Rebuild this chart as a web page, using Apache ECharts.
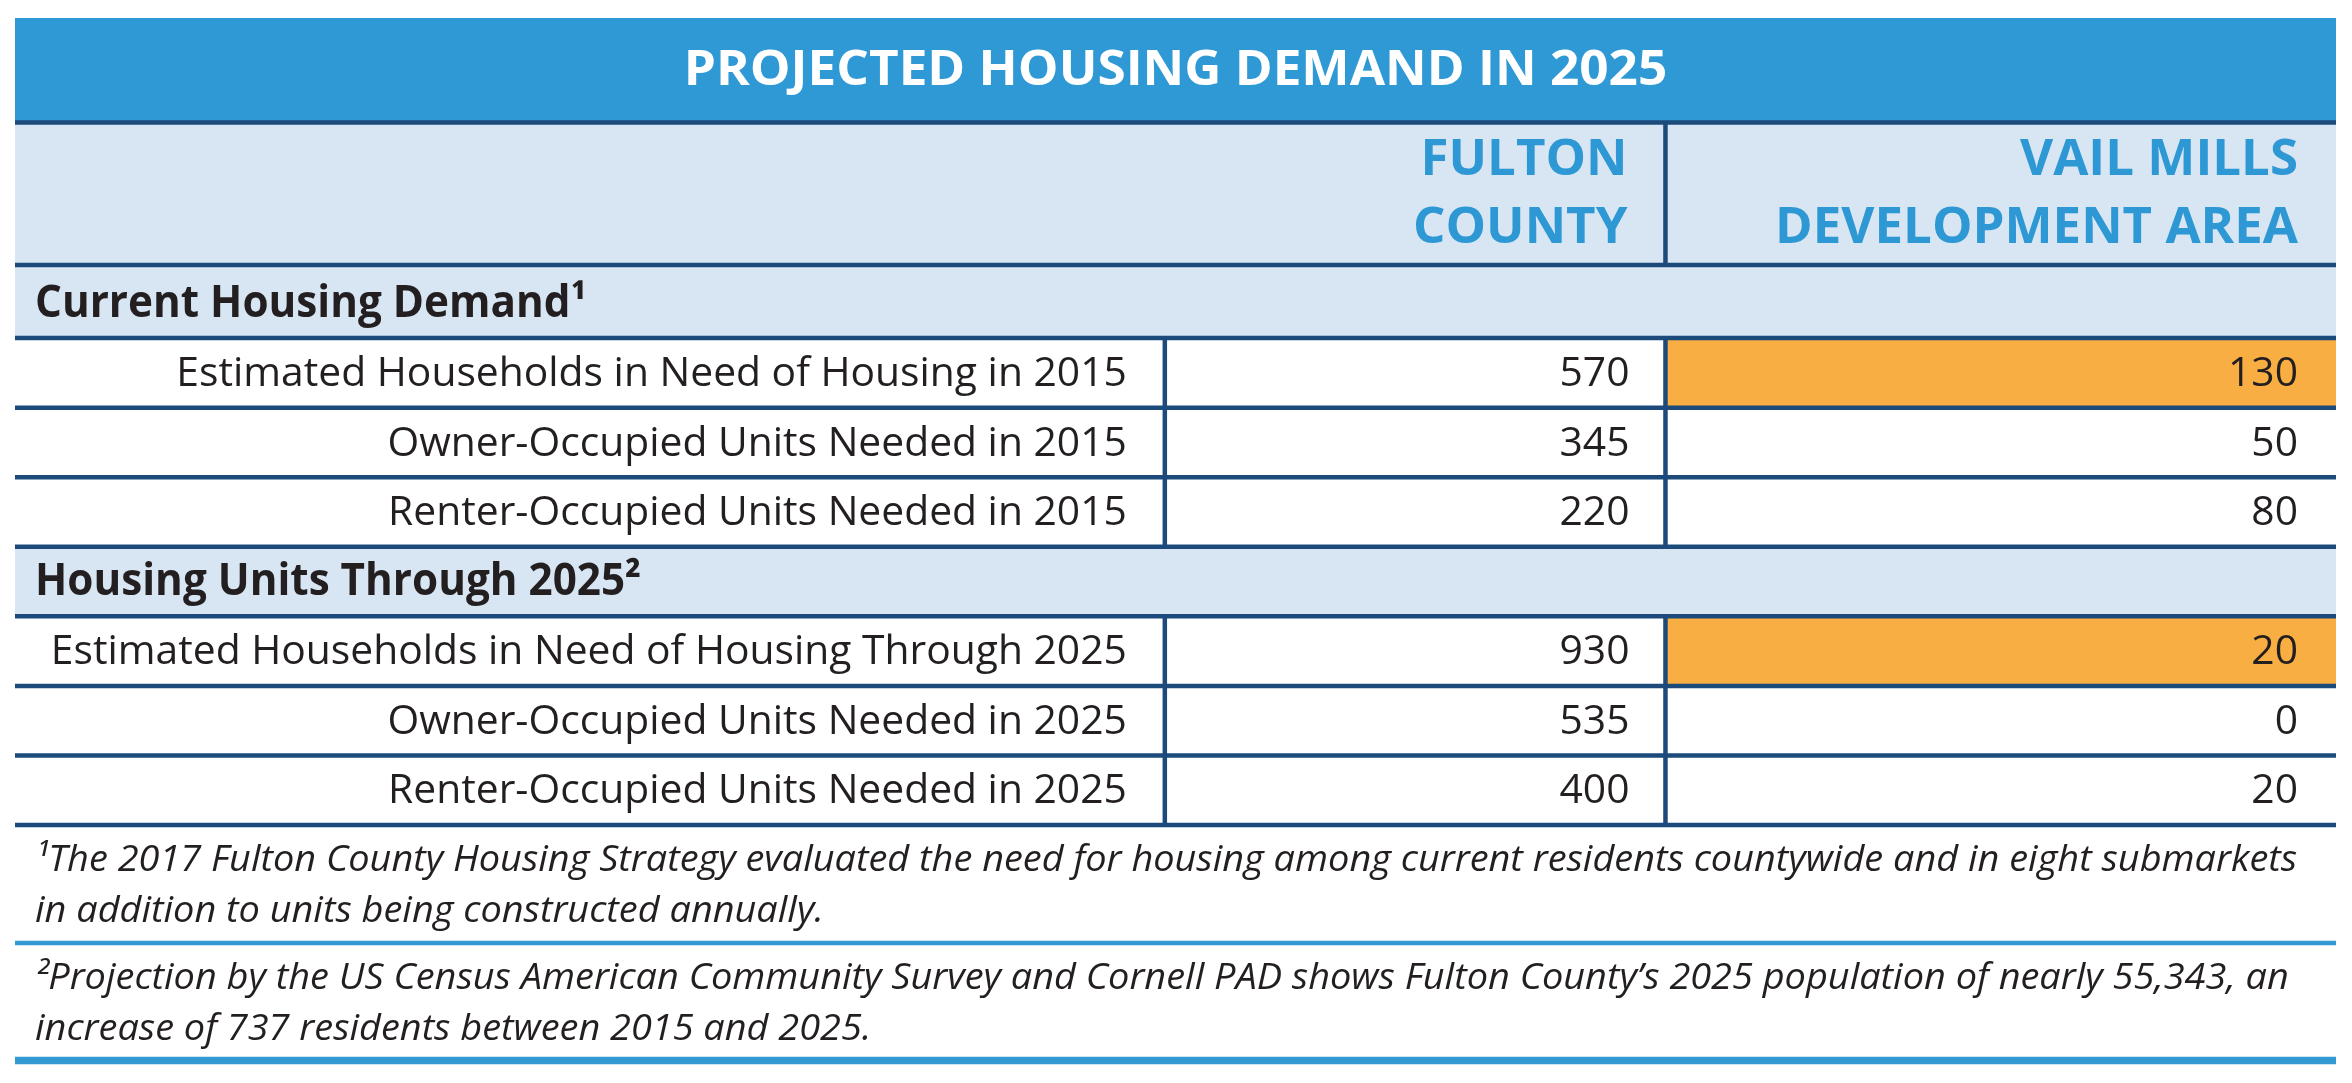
<!DOCTYPE html>
<html><head><meta charset="utf-8">
<script src="https://cdn.jsdelivr.net/npm/echarts@6/dist/echarts.min.js"></script>
<style>html,body{margin:0;padding:0;background:#fff}#c{width:2352px;height:1083px}</style>
</head><body><div id="c"></div>
<script>
// ---------------- data ----------------
const title = 'PROJECTED HOUSING DEMAND IN 2025';
const columnHeaders = ['FULTON\nCOUNTY', 'VAIL MILLS\nDEVELOPMENT AREA'];
const rowLabels = [
  'Current Housing Demand\u00B9',
  'Estimated Households in Need of Housing in 2015',
  'Owner-Occupied Units Needed in 2015',
  'Renter-Occupied Units Needed in 2015',
  'Housing Units Through 2025\u00B2',
  'Estimated Households in Need of Housing Through 2025',
  'Owner-Occupied Units Needed in 2025',
  'Renter-Occupied Units Needed in 2025'
];
const rowIsSection = [true, false, false, false, true, false, false, false];
const fultonCounty = [null, 570, 345, 220, null, 930, 535, 400];
const vailMills = [null, 130, 50, 80, null, 20, 0, 20];
const highlightVail = [false, true, false, false, false, true, false, false];
const footnotes = [
  '\u00B9The 2017 Fulton County Housing Strategy evaluated the need for housing among current residents countywide and in eight submarkets\nin addition to units being constructed annually.',
  '\u00B2Projection by the US Census American Community Survey and Cornell PAD shows Fulton County\u2019s 2025 population of nearly 55,343, an\nincrease of 737 residents between 2015 and 2025.'
];

// ---------------- layout (y in body-row units, x as fraction of width) ----------------
const H_TITLE = 1.502, H_COLHEAD = 2.049, GAP = 0.05, H_NOTE1 = 1.696, H_NOTE2 = 1.689;
const Y_COLHEAD = H_TITLE, Y_COLHEAD_END = Y_COLHEAD + H_COLHEAD, Y_BODY = Y_COLHEAD_END + GAP;
const Y_NOTES = Y_BODY + rowLabels.length;
const Y_END = Y_NOTES + H_NOTE1 + H_NOTE2;
const X_EDGES = [0, 0.4954, 0.7111, 1];
const PAD_R = 38, PAD_L = 20;

// ---------------- styles ----------------
const C = {
  title: '#2e99d5', light: '#d8e6f3', navy: '#1b4a7b', orange: '#f9ae43',
  text: '#231f20', head: '#2e98d4', noteLine: '#3399d3'
};
const FONT = '"Open Sans"';
const S = {
  title: {size: 48, weight: 700, style: 'normal', sx: 1.068},
  head: {size: 51, weight: 700, style: 'normal', sx: 1.0, lh: 68.3},
  section: {size: 44, weight: 700, style: 'normal', sx: 0.96},
  body: {size: 41, weight: 400, style: 'normal', sx: 0.995},
  note: {size: 37, weight: 400, style: 'italic', sx: 1.024, lh: 51}
};

function rectEl(api, x0, y0, x1, y1, fill) {
  const a = api.coord([x0, y0]), b = api.coord([x1, y1]);
  return {type: 'rect', z2: 0, shape: {x: a[0], y: a[1], width: b[0] - a[0], height: b[1] - a[1]}, style: {fill: fill}};
}
function hLine(api, x0, x1, y, color, w) {
  const a = api.coord([x0, y]), b = api.coord([x1, y]);
  return {type: 'line', z2: 10, shape: {x1: a[0], y1: a[1], x2: b[0], y2: b[1]}, style: {stroke: color, lineWidth: w}};
}
function vLine(api, x, y0, y1, color, w) {
  const a = api.coord([x, y0]), b = api.coord([x, y1]);
  return {type: 'line', z2: 10, shape: {x1: a[0], y1: a[1], x2: b[0], y2: b[1]}, style: {stroke: color, lineWidth: w}};
}
function textEl(api, x, y, str, st, color, align, dx, dy) {
  const p = api.coord([x, y]);
  return {
    type: 'text', z2: 20, x: p[0] + (dx || 0), y: p[1] + (dy || 0), scaleX: st.sx, originX: 0, originY: 0,
    style: {
      text: str, fill: color, fontFamily: FONT, fontSize: st.size, fontWeight: st.weight, fontStyle: st.style,
      align: align, verticalAlign: 'middle', lineHeight: st.lh || st.size * 1.3
    }
  };
}

const chart = echarts.init(document.getElementById('c'), null, {renderer: 'canvas'});

chart.setOption({
  animation: false,
  grid: {left: 15, right: 16, top: 18, bottom: 22.5},
  xAxis: {type: 'value', min: 0, max: 1, show: false},
  yAxis: {type: 'value', min: 0, max: Y_END, inverse: true, show: false},
  series: [
    { // title band and column headers
      type: 'custom', name: 'header', z: 2, silent: true,
      data: [[0, 0]],
      renderItem: function (params, api) {
        const ch = [
          rectEl(api, 0, 0, 1, Y_COLHEAD, C.title),
          rectEl(api, 0, Y_COLHEAD, 1, Y_BODY, C.light),
          textEl(api, 0.5, Y_COLHEAD / 2, title, S.title, '#ffffff', 'center', 0, 1),
          hLine(api, 0, 1, Y_COLHEAD, C.navy, 4.5),
          vLine(api, X_EDGES[2], Y_COLHEAD, Y_COLHEAD_END, C.navy, 4.5),
          hLine(api, 0, 1, Y_COLHEAD_END, C.navy, 4.5)
        ];
        columnHeaders.forEach(function (h, k) {
          ch.push(textEl(api, X_EDGES[k + 2], (Y_COLHEAD + Y_COLHEAD_END) / 2, h, S.head, C.head, 'right', -PAD_R, 1));
        });
        return {type: 'group', children: ch};
      }
    },
    { // row labels
      type: 'custom', name: 'rows', z: 2, silent: true,
      data: rowLabels.map(function (l, i) { return [0, i]; }),
      renderItem: function (params, api) {
        const i = api.value(1), y0 = Y_BODY + i, y1 = y0 + 1;
        const ch = [];
        if (rowIsSection[i]) {
          ch.push(rectEl(api, 0, y0, 1, y1, C.light));
          ch.push(textEl(api, 0, y0 + 0.5, rowLabels[i], S.section, C.text, 'left', PAD_L, 1));
        } else {
          ch.push(textEl(api, X_EDGES[1], y0 + 0.5, rowLabels[i], S.body, C.text, 'right', -PAD_R, 1.5));
          ch.push(vLine(api, X_EDGES[1], y0, y1, C.navy, 4.5));
        }
        ch.push(hLine(api, 0, 1, y1, C.navy, 4.5));
        return {type: 'group', children: ch};
      }
    },
    { // Fulton County values
      type: 'custom', name: 'Fulton County', z: 2, silent: true,
      data: fultonCounty.map(function (v, i) { return v == null ? null : {value: [1, i, v]}; }).filter(Boolean),
      renderItem: function (params, api) {
        const i = api.value(1), v = api.value(2), y0 = Y_BODY + i;
        return {type: 'group', children: [
          textEl(api, X_EDGES[2], y0 + 0.5, String(v), S.body, C.text, 'right', -PAD_R + 2, 1.5),
          vLine(api, X_EDGES[2], y0, y0 + 1, C.navy, 4.5)
        ]};
      }
    },
    { // Vail Mills values
      type: 'custom', name: 'Vail Mills Development Area', z: 2, silent: true,
      data: vailMills.map(function (v, i) { return v == null ? null : {value: [2, i, v]}; }).filter(Boolean),
      renderItem: function (params, api) {
        const i = api.value(1), v = api.value(2), y0 = Y_BODY + i;
        const ch = [];
        if (highlightVail[i]) ch.push(rectEl(api, X_EDGES[2], y0, X_EDGES[3], y0 + 1, C.orange));
        ch.push(textEl(api, X_EDGES[3], y0 + 0.5, String(v), S.body, C.text, 'right', -PAD_R, 1.5));
        return {type: 'group', children: ch};
      }
    },
    { // footnotes
      type: 'custom', name: 'notes', z: 2, silent: true,
      data: footnotes.map(function (f, k) { return [0, k]; }),
      renderItem: function (params, api) {
        const k = api.value(1);
        const y0 = k === 0 ? Y_NOTES : Y_NOTES + H_NOTE1;
        const y1 = k === 0 ? Y_NOTES + H_NOTE1 : Y_END;
        return {type: 'group', children: [
          textEl(api, 0, (y0 + y1) / 2, footnotes[k], S.note, C.text, 'left', PAD_L, 2),
          hLine(api, 0, 1, y1, C.noteLine, k === 0 ? 4.5 : 7.5)
        ]};
      }
    }
  ]
});
</script></body></html>
